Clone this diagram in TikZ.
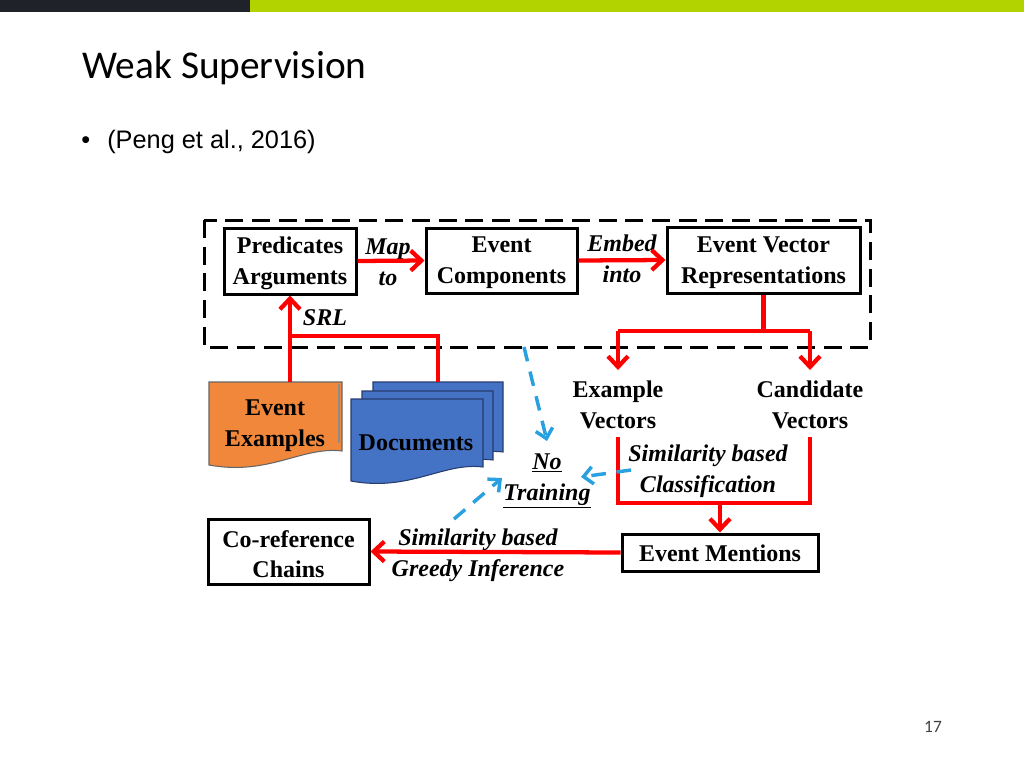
\documentclass[tikz,border=0pt]{standalone}
\usepackage{fontspec}
\setmainfont{Liberation Serif}
\newfontfamily\titlefont{Carlito}
\newfontfamily\arialfont{Liberation Sans}
\usetikzlibrary{arrows.meta}
\definecolor{hdrdark}{RGB}{31,34,41}
\definecolor{hdrgreen}{RGB}{178,211,0}
\definecolor{arrred}{RGB}{255,0,0}
\definecolor{skyb}{RGB}{41,160,224}
\definecolor{orng}{RGB}{240,135,58}
\definecolor{docblue}{RGB}{68,114,196}
\definecolor{docedge}{RGB}{40,60,110}
\tikzset{
  boxnode/.style={draw, line width=2.25pt, fill=white, font=\fontsize{18}{23}\selectfont\bfseries, align=center, inner sep=0pt},
  boxtext/.style={font=\fontsize{18}{23}\selectfont\bfseries, align=center, inner sep=0pt},
  txtnode/.style={font=\fontsize{18}{23}\selectfont\bfseries, align=center, inner sep=1pt},
  lblnode/.style={font=\fontsize{18}{23}\selectfont\bfseries\itshape, align=center, inner sep=1pt},
  redline/.style={draw=arrred, line width=3.2pt},
  redarrow/.style={redline, -{Straight Barb[length=8pt,width=15pt]}},
  bluearrow/.style={draw=skyb, line width=2.6pt, dash pattern=on 11pt off 8pt, -{Straight Barb[length=7pt,width=13pt]}},
  docpage/.style={fill=docblue, draw=docedge, line width=0.8pt},
}
\begin{document}
\begin{tikzpicture}[x=0.75pt,y=-0.75pt]
\useasboundingbox (0,0) rectangle (1024,768);
% header bar
\fill[hdrdark] (0,0) rectangle (250,12);
\fill[hdrgreen] (250,0) rectangle (1024,12);
% title and bullet
\node[anchor=base west, inner sep=0pt, font=\titlefont\fontsize{29.5}{31}\selectfont] (title) at (82,78) {Weak Supervision};
\node[anchor=base west, inner sep=0pt, font=\arialfont\fontsize{19}{22}\selectfont] (bullet) at (81,148) {•};
\node[anchor=base west, inner sep=0pt, font=\arialfont\fontsize{19}{22}\selectfont] (cite) at (107,148) {(Peng et al., 2016)};
\node[inner sep=0pt, text=black!75, font=\titlefont\fontsize{13}{14}\selectfont] (pagenum) at (933,727) {17};
% dashed frame
\draw[line width=2.25pt, dash pattern=on 13.5pt off 6.5pt] (204,220) rectangle (870,347);
% boxes
\node[boxnode, minimum width=99pt, minimum height=49.5pt] (pa) at (290,261) {};
\node[boxtext] (pat) at (290,263) {Predicates\\Arguments};
\node[boxnode, minimum width=113.25pt, minimum height=48.75pt] (ec) at (501.5,260.5) {};
\node[boxtext] (ect) at (501.5,263) {Event\\Components};
\node[boxnode, minimum width=144.75pt, minimum height=49.5pt] (evr) at (763.5,260) {};
\node[boxtext] (evrt) at (763.5,262.5) {Event Vector\\Representations};
\node[boxnode, minimum width=120.75pt, minimum height=48.75pt] (cc) at (288.5,551.5) {};
\node[boxtext] (cct) at (288.5,554) {Co-reference\\Chains};
\node[boxnode, minimum width=147pt, minimum height=27.75pt] (em) at (720,552.5) {};
\node[boxtext] (emt) at (720,553.5) {Event Mentions};
% event examples (orange document)
\draw[fill=orng, draw=black!60, line width=0.8pt] (209,382) -- (342,382) -- (342,451) .. controls (302,446) and (269,476) .. (209,465) -- cycle;
\draw[black!45, line width=0.8pt] (339,384) -- (339,443);
\node[txtnode] (eex) at (275,426) {Event\\Examples};
% documents (stacked blue)
\draw[docpage] (373,382) -- (503,382) -- (503,452) .. controls (464,447) and (431,477) .. (373,466) -- cycle;
\draw[docpage] (362,391) -- (493,391) -- (493,460) .. controls (454,455) and (421,485) .. (362,474) -- cycle;
\draw[docpage] (351,399) -- (483,399) -- (483,467) .. controls (443,462) and (410,492) .. (351,481) -- cycle;
\node[txtnode] (docs) at (416,443) {Documents};
% vectors
\node[txtnode] (ev) at (618,405) {Example\\Vectors};
\node[txtnode] (cv) at (810,405) {Candidate\\Vectors};
% no training
\node[lblnode] (nt) at (547,481) {\underline{No}\\\underline{Training}};
% labels
\node[lblnode] (lmap) at (388,262) {Map\\to};
\node[lblnode] (lemb) at (622,259) {Embed\\into};
\node[lblnode] (lsrl) at (325,318) {SRL};
\node[lblnode] (lcls) at (708,471) {Similarity based\\Classification};
\node[lblnode] (lgrd) at (478,555) {Similarity based\\Greedy Inference};
% coordinates
\coordinate (eextop) at (290,382);
\coordinate (jsrl) at (290,336);
\coordinate (doctop) at (438,382);
\coordinate (bl) at (618,331);
\coordinate (br) at (810,331);
\coordinate (evb) at (618,437);
\coordinate (cvb) at (810,437);
\coordinate (brm) at (720,503);
\coordinate (evt) at (618,370);
\coordinate (cvt) at (810,370);
% red connectors
\draw[redarrow] (pa.east) -- (ec.west);
\draw[redarrow] (ec.east) -- (evr.west);
\draw[redarrow] (eextop) -- (pa.south);
\draw[redline] (jsrl) -| (doctop);
\draw[redline] (evr.south) |- (bl);
\draw[redline] (evr.south) |- (br);
\draw[redarrow] (bl) -- (evt);
\draw[redarrow] (br) -- (cvt);
\draw[redline] (evb) |- (brm) -| (cvb);
\draw[redarrow] (brm) -- (em.north);
\draw[redarrow] (em.west) -- (cc.east);
% blue dashed arrows
\coordinate (b1s) at (524,347);
\coordinate (b1e) at (547,441);
\coordinate (b2s) at (631,470);
\coordinate (b2e) at (581,477);
\coordinate (b3s) at (454,519);
\coordinate (b3e) at (502,478);
\draw[bluearrow] (b1s) -- (b1e);
\draw[bluearrow] (b2s) -- (b2e);
\draw[bluearrow] (b3s) -- (b3e);
\end{tikzpicture}
\end{document}
